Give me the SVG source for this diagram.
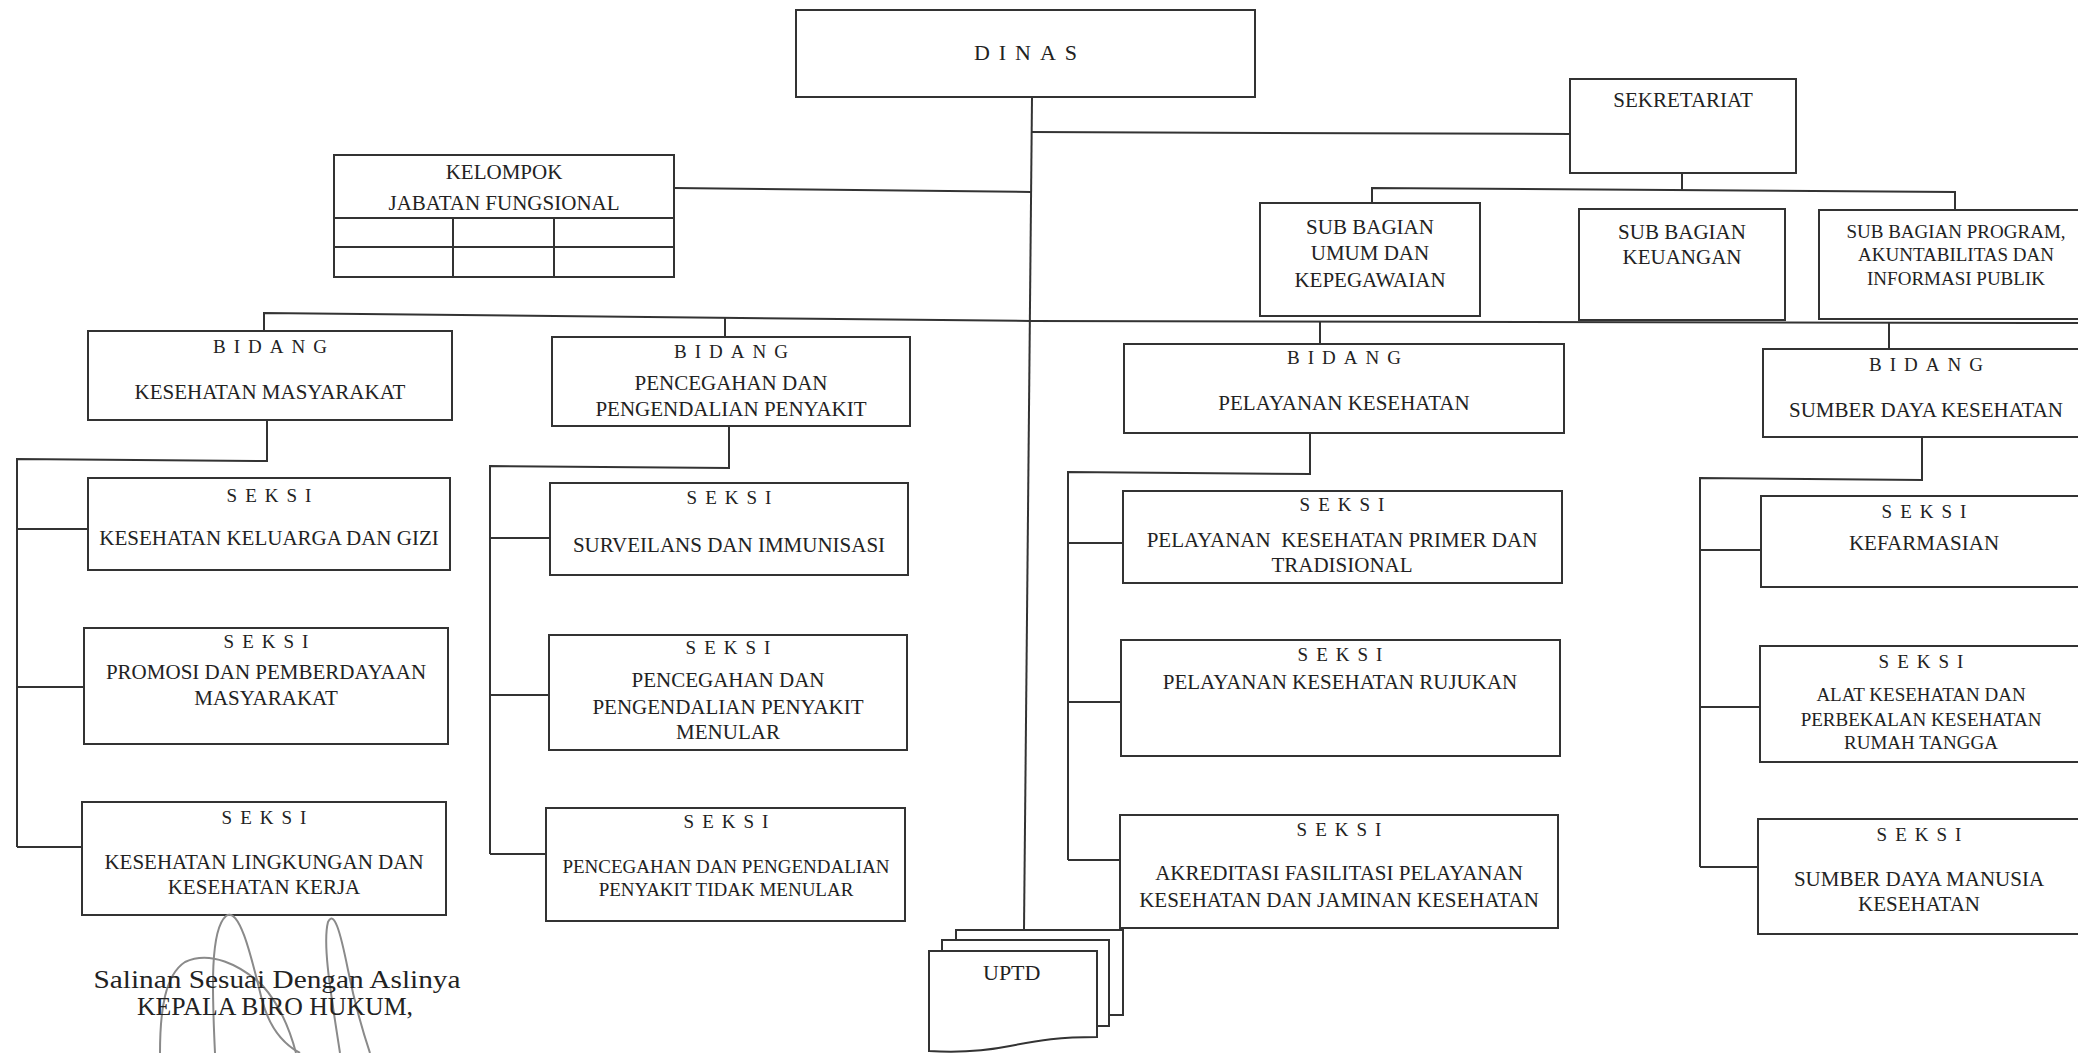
<svg xmlns="http://www.w3.org/2000/svg" width="2078" height="1053" viewBox="0 0 2078 1053">
<style>
.box{fill:#fff;stroke:#333;stroke-width:2}
.ln{fill:none;stroke:#333;stroke-width:2}
.sig{fill:none;stroke:#8a8a8a;stroke-width:2}
text{font-family:"Liberation Serif","Times New Roman",serif;font-size:21px;fill:#222;text-anchor:middle}
.h{font-size:19px;letter-spacing:8px}
.s{font-size:19px}
.d{font-size:22px;letter-spacing:9px}
.l{text-anchor:start}
</style>
<rect width="2078" height="1053" fill="#fff"/>
<g id="connectors">
<path class="ln" d="M1032,97 L1024,930"/>
<path class="ln" d="M1031,132 L1570,134"/>
<path class="ln" d="M674,188 L1031,192"/>
<path class="ln" d="M1682,173 V190 M1372,203 V188 L1955,192 V210"/>
<path class="ln" d="M264,331 V313 L1031,321 L2078,323"/>
<path class="ln" d="M725,337 V317 M1320,344 V322 M1889,349 V322"/>
<path class="ln" d="M267,420 V461 L17,459 V847 M17,529 H88 M17,687 H84 M17,847 H82"/>
<path class="ln" d="M729,426 V468 L490,466 V854 M490,538 H550 M490,695 H549 M490,854 H546"/>
<path class="ln" d="M1310,433 V474 L1068,472 V860 M1068,543 H1123 M1068,702 H1121 M1068,860 H1120"/>
<path class="ln" d="M1922,437 V480 L1700,478 V867 M1700,550 H1761 M1700,707 H1760 M1700,867 H1758"/>
</g>
<g id="dinas">
<rect class="box" x="796" y="10" width="459" height="87"/>
<text class="d" x="1030" y="60">DINAS</text>
</g>
<g id="sekretariat">
<rect class="box" x="1570" y="79" width="226" height="94"/>
<text x="1683" y="107">SEKRETARIAT</text>
</g>
<g id="kelompok">
<rect class="box" x="334" y="155" width="340" height="122"/>
<path class="ln" d="M334,218 H674 M334,247 H674 M453,218 V277 M554,218 V277"/>
<text x="504" y="179">KELOMPOK</text>
<text x="504" y="210">JABATAN FUNGSIONAL</text>
</g>
<g id="subbag-umum">
<rect class="box" x="1260" y="203" width="220" height="113"/>
<text x="1370" y="234">SUB BAGIAN</text>
<text x="1370" y="260">UMUM DAN</text>
<text x="1370" y="287">KEPEGAWAIAN</text>
</g>
<g id="subbag-keuangan">
<rect class="box" x="1579" y="209" width="206" height="111"/>
<text x="1682" y="239">SUB BAGIAN</text>
<text x="1682" y="264">KEUANGAN</text>
</g>
<g id="subbag-program">
<rect class="box" x="1819" y="210" width="275" height="109"/>
<text class="s" x="1956" y="238">SUB BAGIAN PROGRAM,</text>
<text class="s" x="1956" y="261">AKUNTABILITAS DAN</text>
<text class="s" x="1956" y="285">INFORMASI PUBLIK</text>
</g>
<g id="bidang-kesmas">
<rect class="box" x="88" y="331" width="364" height="89"/>
<text class="h" x="274" y="353">BIDANG</text>
<text x="270" y="399">KESEHATAN MASYARAKAT</text>
</g>
<g id="bidang-p2p">
<rect class="box" x="552" y="337" width="358" height="89"/>
<text class="h" x="735" y="358">BIDANG</text>
<text x="731" y="390">PENCEGAHAN DAN</text>
<text x="731" y="416">PENGENDALIAN PENYAKIT</text>
</g>
<g id="bidang-yankes">
<rect class="box" x="1124" y="344" width="440" height="89"/>
<text class="h" x="1348" y="364">BIDANG</text>
<text x="1344" y="410">PELAYANAN KESEHATAN</text>
</g>
<g id="bidang-sdk">
<rect class="box" x="1763" y="349" width="330" height="88"/>
<text class="h" x="1930" y="371">BIDANG</text>
<text x="1926" y="417">SUMBER DAYA KESEHATAN</text>
</g>
<g id="seksi-kesga">
<rect class="box" x="88" y="478" width="362" height="92"/>
<text class="h" x="273" y="502">SEKSI</text>
<text x="269" y="545">KESEHATAN KELUARGA DAN GIZI</text>
</g>
<g id="seksi-promosi">
<rect class="box" x="84" y="628" width="364" height="116"/>
<text class="h" x="270" y="648">SEKSI</text>
<text x="266" y="679">PROMOSI DAN PEMBERDAYAAN</text>
<text x="266" y="705">MASYARAKAT</text>
</g>
<g id="seksi-kesling">
<rect class="box" x="82" y="802" width="364" height="113"/>
<text class="h" x="268" y="824">SEKSI</text>
<text x="264" y="869">KESEHATAN LINGKUNGAN DAN</text>
<text x="264" y="894">KESEHATAN KERJA</text>
</g>
<g id="seksi-surveilans">
<rect class="box" x="550" y="483" width="358" height="92"/>
<text class="h" x="733" y="504">SEKSI</text>
<text x="729" y="552">SURVEILANS DAN IMMUNISASI</text>
</g>
<g id="seksi-p2pm">
<rect class="box" x="549" y="635" width="358" height="115"/>
<text class="h" x="732" y="654">SEKSI</text>
<text x="728" y="687">PENCEGAHAN DAN</text>
<text x="728" y="714">PENGENDALIAN PENYAKIT</text>
<text x="728" y="739">MENULAR</text>
</g>
<g id="seksi-p2ptm">
<rect class="box" x="546" y="808" width="359" height="113"/>
<text class="h" x="730" y="828">SEKSI</text>
<text class="s" x="726" y="873">PENCEGAHAN DAN PENGENDALIAN</text>
<text class="s" x="726" y="896">PENYAKIT TIDAK MENULAR</text>
</g>
<g id="seksi-primer">
<rect class="box" x="1123" y="491" width="439" height="92"/>
<text class="h" x="1346" y="511">SEKSI</text>
<text x="1342" y="547" xml:space="preserve">PELAYANAN  KESEHATAN PRIMER DAN</text>
<text x="1342" y="572">TRADISIONAL</text>
</g>
<g id="seksi-rujukan">
<rect class="box" x="1121" y="640" width="439" height="116"/>
<text class="h" x="1344" y="661">SEKSI</text>
<text x="1340" y="689">PELAYANAN KESEHATAN RUJUKAN</text>
</g>
<g id="seksi-akreditasi">
<rect class="box" x="1120" y="815" width="438" height="113"/>
<text class="h" x="1343" y="836">SEKSI</text>
<text x="1339" y="880">AKREDITASI FASILITASI PELAYANAN</text>
<text x="1339" y="907">KESEHATAN DAN JAMINAN KESEHATAN</text>
</g>
<g id="seksi-farmasi">
<rect class="box" x="1761" y="496" width="330" height="91"/>
<text class="h" x="1928" y="518">SEKSI</text>
<text x="1924" y="550">KEFARMASIAN</text>
</g>
<g id="seksi-alkes">
<rect class="box" x="1760" y="646" width="330" height="116"/>
<text class="h" x="1925" y="668">SEKSI</text>
<text class="s" x="1921" y="701">ALAT KESEHATAN DAN</text>
<text class="s" x="1921" y="726">PERBEKALAN KESEHATAN</text>
<text class="s" x="1921" y="749">RUMAH TANGGA</text>
</g>
<g id="seksi-sdmk">
<rect class="box" x="1758" y="819" width="332" height="115"/>
<text class="h" x="1923" y="841">SEKSI</text>
<text x="1919" y="886">SUMBER DAYA MANUSIA</text>
<text x="1919" y="911">KESEHATAN</text>
</g>
<g id="uptd">
<rect class="box" x="956" y="930" width="167" height="85"/>
<rect class="box" x="942" y="940" width="167" height="86"/>
<path class="box" d="M929,951 H1097 V1037 C1060,1037 1040,1040 1010,1046 C985,1051 960,1053 929,1051 Z"/>
<text class="l" x="983" y="980" style="font-size:22px">UPTD</text>
</g>
<g id="signature">
<path class="sig" d="M215,1053 C212,990 210,930 226,916 C240,906 252,960 262,1000 C270,1030 285,1045 300,1053"/>
<path class="sig" d="M340,1053 C332,1000 322,945 328,922 C334,910 340,930 348,970 C356,1010 364,1035 370,1053"/>
<path class="sig" d="M160,1053 C160,1010 165,975 185,962 C210,950 240,965 262,985 C280,1005 290,1030 296,1053"/>
<text x="277" y="988" textLength="367" lengthAdjust="spacingAndGlyphs" style="font-size:25px">Salinan Sesuai Dengan Aslinya</text>
<text x="275" y="1015" textLength="276" lengthAdjust="spacingAndGlyphs" style="font-size:25px">KEPALA BIRO HUKUM,</text>
</g>
</svg>
